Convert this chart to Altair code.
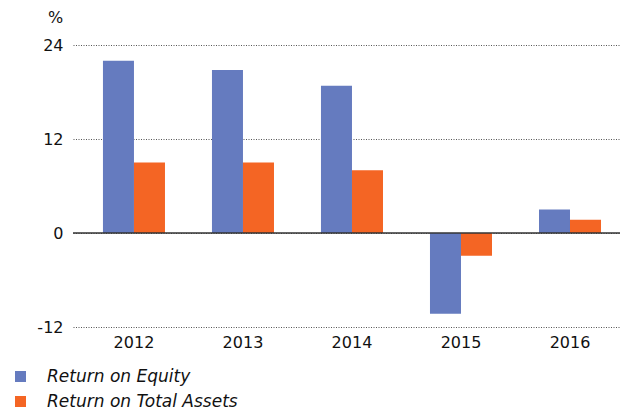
import altair as alt
import pandas as pd

years = ["2012", "2013", "2014", "2015", "2016"]
roe = [22.0, 20.8, 18.8, -10.3, 3.0]
roa = [9.0, 9.0, 8.0, -2.9, 1.7]
series = ["Return on Equity", "Return on Total Assets"]
colors = ["#657bbf", "#f46524"]
y_ticks = [-12, 0, 12, 24]

rows = []
for i, yr in enumerate(years):
    rows.append({"year": yr, "series": series[0], "value": roe[i]})
    rows.append({"year": yr, "series": series[1], "value": roa[i]})
df = pd.DataFrame(rows)

FONT = "DejaVu Sans"

y_enc = alt.Y("value:Q", scale=alt.Scale(domain=[-12, 24], nice=False, zero=False),
              axis=alt.Axis(values=y_ticks, title="%", titleAngle=0, titleX=-18, titleY=-28,
                            titleAlign="center", titleBaseline="middle", titleFont=FONT,
                            titleFontSize=16, titleFontWeight="normal", titleColor="#111",
                            grid=True, gridDash=[1, 1.5], gridColor="#555", gridWidth=1,
                            domain=False, ticks=False, labelPadding=10, labelFontSize=16,
                            labelColor="#111", labelFont=FONT,
                            labelExpr="datum.value < 0 ? '-' + format(-datum.value, 'd') : format(datum.value, 'd')"))

bars = alt.Chart(df).mark_bar().encode(
    x=alt.X("year:N", sort=years,
            scale=alt.Scale(paddingInner=0.431, paddingOuter=0.2245, align=0.612),
            axis=alt.Axis(title=None, labelAngle=0, domain=False, ticks=False,
                          labelPadding=7, labelFontSize=16, labelColor="#111",
                          labelFont=FONT)),
    xOffset=alt.XOffset("series:N", sort=series),
    y=y_enc,
    color=alt.Color("series:N", sort=series,
                    scale=alt.Scale(domain=series, range=colors),
                    legend=alt.Legend(title=None, orient="none", legendX=-61, legendY=323,
                                      direction="vertical", symbolType="square",
                                      symbolSize=121, symbolStrokeWidth=0,
                                      labelFontStyle="italic", labelFontSize=17,
                                      labelFont=FONT, labelColor="#111", labelOffset=18,
                                      labelLimit=400, rowPadding=7, padding=0)),
)

zero = alt.Chart(pd.DataFrame({"value": [0]})).mark_rule(color="#333", strokeWidth=1.5).encode(
    y=y_enc
)

chart = alt.layer(bars, zero).properties(
    width=547, height=282,
    autosize=alt.AutoSizeParams(type="none"),
    padding={"left": 65, "top": 37, "right": 0, "bottom": 83},
).configure_view(stroke=None)

chart.save("out.html", embed_options={"renderer": "svg", "actions": False})
